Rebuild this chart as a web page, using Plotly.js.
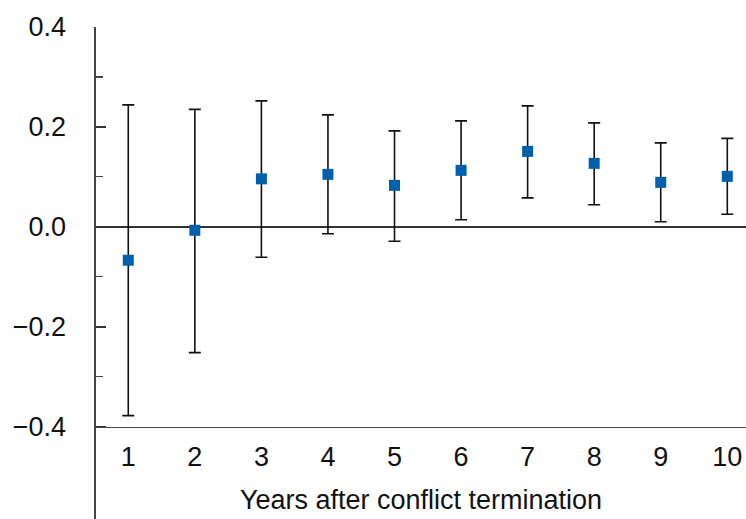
<!DOCTYPE html>
<html>
<head>
<meta charset="utf-8">
<script src="https://cdn.plot.ly/plotly-3.0.1.min.js"></script>
<style>html,body{margin:0;padding:0;background:#fff;}#chart{width:746px;height:519px;}</style>
</head>
<body>
<div id="chart"></div>
<script>
// Data
const years = [1, 2, 3, 4, 5, 6, 7, 8, 9, 10];
const estimate = [-0.067, -0.007, 0.096, 0.105, 0.083, 0.113, 0.151, 0.127, 0.089, 0.101];
const upperBound = [0.244, 0.235, 0.252, 0.224, 0.192, 0.212, 0.242, 0.208, 0.168, 0.177];
const lowerBound = [-0.378, -0.252, -0.061, -0.014, -0.029, 0.014, 0.058, 0.044, 0.010, 0.025];
const yTickVals = [-0.4, -0.2, 0.0, 0.2, 0.4];
const yMinorVals = [-0.3, -0.1, 0.1, 0.3];
const xTitle = 'Years after conflict termination';

const errPlus = estimate.map((v, i) => upperBound[i] - v);
const errMinus = estimate.map((v, i) => v - lowerBound[i]);

const FONT = '"Liberation Sans", Arial, sans-serif';
const FS = 27;

const yMin = -0.585, yMax = 0.4;
const xAxisPos = (-0.4 - yMin) / (yMax - yMin);

const trace = {
  type: 'scatter',
  mode: 'markers',
  x: years,
  y: estimate,
  marker: {symbol: 'square', size: 11, color: '#0060AC', line: {width: 0}},
  error_y: {
    type: 'data',
    symmetric: false,
    array: errPlus,
    arrayminus: errMinus,
    color: '#111111',
    thickness: 1.6,
    width: 6
  },
  hoverinfo: 'x+y',
  showlegend: false
};

const layout = {
  width: 746,
  height: 519,
  margin: {l: 96, r: 0, t: 27, b: 0, pad: 0},
  paper_bgcolor: '#ffffff',
  plot_bgcolor: '#ffffff',
  font: {family: FONT, size: FS, color: '#111111'},
  xaxis: {
    range: [0.515, 10.281],
    anchor: 'free',
    position: xAxisPos,
    tickvals: years,
    ticks: '',
    showgrid: false,
    zeroline: false,
    showline: true,
    linecolor: '#444444',
    linewidth: 1.6,
    ticklabelstandoff: 5,
    tickfont: {family: FONT, size: FS, color: '#111111'},
    title: {text: xTitle, font: {family: FONT, size: FS, color: '#111111'}, standoff: 19}
  },
  yaxis: {
    range: [yMin, yMax],
    domain: [0, 1],
    tickvals: yTickVals,
    tickformat: '.1f',
    ticks: 'inside',
    ticklen: 10,
    tickwidth: 1.6,
    tickcolor: '#333333',
    minor: {tickvals: yMinorVals, ticks: 'inside', ticklen: 7, tickwidth: 1.2, tickcolor: '#444444', showgrid: false},
    showgrid: false,
    zeroline: true,
    zerolinecolor: '#333333',
    zerolinewidth: 1.6,
    showline: true,
    linecolor: '#444444',
    linewidth: 1.6,
    ticklabelstandoff: 23,
    tickfont: {family: FONT, size: FS, color: '#111111'}
  }
};

Plotly.newPlot('chart', [trace], layout, {displayModeBar: false, staticPlot: true});
</script>
</body>
</html>
